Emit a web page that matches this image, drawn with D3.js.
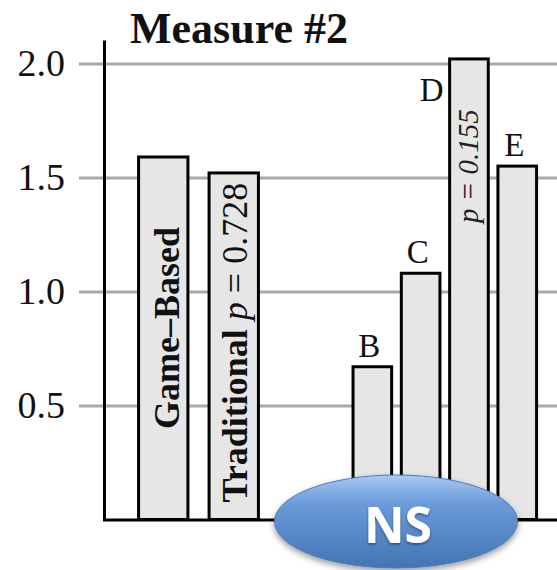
<!DOCTYPE html>
<html>
<head>
<meta charset="utf-8">
<script src="https://cdn.jsdelivr.net/npm/d3@7"></script>
<style>
  html, body { margin: 0; padding: 0; background: #fff; }
  svg { display: block; }
</style>
</head>
<body>
<script>
// ---- data ----
const groupOne = ["Game–Based", "Traditional"];
const groupOneValues = [1.59, 1.52];
const groupTwo = ["B", "C", "D", "E"];
const groupTwoValues = [0.67, 1.08, 2.02, 1.55];
const tickValues = [0.5, 1.0, 1.5, 2.0];
const titleText = "Measure #2";
const pTraditional = "0.728";
const pGroupTwo = "0.155";
const badgeText = "NS";

// ---- layout ----
const W = 557, H = 570;
const serif = "'Liberation Serif', 'Times New Roman', serif";

const svg = d3.select("body").append("svg")
  .attr("width", W).attr("height", H)
  .attr("viewBox", `0 0 ${W} ${H}`);

const defs = svg.append("defs");

const y = d3.scaleLinear().domain([0, 2]).range([519.5, 63.5]);
const xA = d3.scaleBand().domain(groupOne).range([128, 269])
  .paddingInner(0.3).paddingOuter(0.15);
const xB = d3.scaleBand().domain(groupTwo).range([348.2, 541.4])
  .paddingInner(0.2).paddingOuter(0.1);

// ---- gridlines + tick labels ----
const gridLeft = 79;
const gridAxis = d3.axisLeft(y)
  .tickValues(tickValues)
  .tickFormat(d3.format(".1f"))
  .tickSizeInner(-(W - gridLeft))
  .tickSizeOuter(0)
  .tickPadding(14);

const gAxis = svg.append("g")
  .attr("transform", `translate(${gridLeft},0)`)
  .call(gridAxis);
gAxis.select(".domain").remove();
gAxis.selectAll(".tick line")
  .attr("stroke", "#a9a9a9").attr("stroke-width", 3);
gAxis.selectAll(".tick text")
  .attr("font-family", serif).attr("font-size", 38).attr("fill", "#111");

// ---- bars ----
function drawBars(keys, values, xs) {
  const data = keys.map((k, i) => ({ k, v: values[i] }));
  svg.append("g").selectAll("rect").data(data).join("rect")
    .attr("x", d => xs(d.k))
    .attr("width", xs.bandwidth())
    .attr("y", d => y(d.v))
    .attr("height", d => y(0) - y(d.v))
    .attr("fill", "#e6e6e6")
    .attr("stroke", "#000")
    .attr("stroke-width", 3);
  return data;
}
drawBars(groupOne, groupOneValues, xA);
const dataB = drawBars(groupTwo, groupTwoValues, xB);

// ---- axis lines ----
svg.append("line")
  .attr("x1", 104.5).attr("x2", 104.5)
  .attr("y1", 40.5).attr("y2", y(0) + 1.5)
  .attr("stroke", "#000").attr("stroke-width", 3);
svg.append("line")
  .attr("x1", 103).attr("x2", W)
  .attr("y1", y(0) + 0.5).attr("y2", y(0) + 0.5)
  .attr("stroke", "#000").attr("stroke-width", 3);

// ---- title ----
svg.append("text")
  .attr("x", 130).attr("y", 43)
  .attr("font-family", serif).attr("font-weight", "bold")
  .attr("font-size", 44).attr("fill", "#111")
  .text(titleText);

// ---- labels inside the first two bars ----
const cA = k => xA(k) + xA.bandwidth() / 2;

svg.append("text")
  .attr("transform", `translate(${cA(groupOne[0])},${y(0.84)}) rotate(-90)`)
  .attr("text-anchor", "middle").attr("dy", "0.45em")
  .attr("font-family", serif).attr("font-weight", "bold")
  .attr("font-size", 36).attr("fill", "#111")
  .text(groupOne[0]);

const tTrad = svg.append("text")
  .attr("transform", `translate(${cA(groupOne[1])},${y(0) - 17}) rotate(-90)`)
  .attr("text-anchor", "start").attr("dy", "0.38em")
  .attr("font-family", serif).attr("font-size", 36).attr("fill", "#111");
tTrad.append("tspan").attr("font-weight", "bold").text(groupOne[1] + " ");
tTrad.append("tspan").attr("font-style", "italic").text("p");
tTrad.append("tspan").text(" = " + pTraditional);

// ---- p-value inside bar D ----
const cB = k => xB(k) + xB.bandwidth() / 2;
svg.append("text")
  .attr("transform", `translate(${cB("D")},${y(1.30)}) rotate(-90)`)
  .attr("text-anchor", "start").attr("dy", "0.3em")
  .attr("font-family", serif).attr("font-style", "italic")
  .attr("font-size", 29).attr("fill", "#222")
  .text("p = " + pGroupTwo);

// ---- letter labels above the second group ----
svg.append("g").selectAll("text").data(dataB).join("text")
  .attr("x", d => d.k === "D" ? xB(d.k) - 6 : cB(d.k) - 3)
  .attr("y", d => d.k === "D" ? y(d.v) + 42 : y(d.v) - 10)
  .attr("text-anchor", d => d.k === "D" ? "end" : "middle")
  .attr("font-family", serif).attr("font-size", 33).attr("fill", "#111")
  .text(d => d.k);

// ---- NS badge ----
const grad = defs.append("linearGradient").attr("id", "badgeFill")
  .attr("x1", 0).attr("y1", 0).attr("x2", 0).attr("y2", 1);
grad.append("stop").attr("offset", "0%").attr("stop-color", "#a8cbf3");
grad.append("stop").attr("offset", "30%").attr("stop-color", "#6b9bd9");
grad.append("stop").attr("offset", "100%").attr("stop-color", "#4474b2");

const shadow = defs.append("filter").attr("id", "badgeShadow")
  .attr("x", "-20%").attr("y", "-20%").attr("width", "140%").attr("height", "150%");
shadow.append("feDropShadow")
  .attr("dx", 0).attr("dy", 3).attr("stdDeviation", 3)
  .attr("flood-color", "#000").attr("flood-opacity", 0.4);

const textShadow = defs.append("filter").attr("id", "nsShadow")
  .attr("x", "-20%").attr("y", "-20%").attr("width", "140%").attr("height", "150%");
textShadow.append("feDropShadow")
  .attr("dx", 0).attr("dy", 1.5).attr("stdDeviation", 1.2)
  .attr("flood-color", "#0b2850").attr("flood-opacity", 0.6);

const badgeCx = (xA(groupOne[1]) + xA.bandwidth() + xB("E") + xB.bandwidth()) / 2 - 1.5;
svg.append("ellipse")
  .attr("cx", badgeCx).attr("cy", y(0) + 2)
  .attr("rx", 121.5).attr("ry", 46.5)
  .attr("fill", "url(#badgeFill)")
  .attr("stroke", "#4a7cbb").attr("stroke-width", 1)
  .attr("filter", "url(#badgeShadow)");

svg.append("text")
  .attr("x", badgeCx + 2).attr("y", y(0) + 23.5)
  .attr("text-anchor", "middle")
  .attr("font-family", "'Open Sans', sans-serif").attr("font-weight", "bold")
  .attr("font-size", 50).attr("fill", "#fff")
  .attr("filter", "url(#nsShadow)")
  .text(badgeText);
</script>
</body>
</html>
